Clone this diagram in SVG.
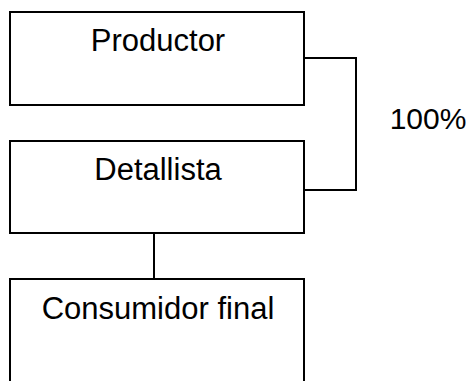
<svg xmlns="http://www.w3.org/2000/svg" width="471" height="381" viewBox="0 0 471 381">
  <style>
    .box { fill: #ffffff; stroke: #000000; stroke-width: 2; }
    .link { fill: none; stroke: #000000; stroke-width: 2; }
    .label { font-family: "Liberation Sans", Arial, sans-serif; font-size: 31px; fill: #000000; text-anchor: middle; }
  </style>
  <rect width="471" height="381" fill="#ffffff"/>
  <g id="connectors">
    <polyline class="link" points="304,58 356,58 356,190 304,190"/>
    <line class="link" x1="154" y1="233" x2="154" y2="279"/>
  </g>
  <g id="productor">
    <rect class="box" x="10" y="12" width="294" height="93"/>
    <text class="label" x="158" y="51">Productor</text>
  </g>
  <g id="detallista">
    <rect class="box" x="10" y="141" width="294" height="92"/>
    <text class="label" x="158" y="180">Detallista</text>
  </g>
  <g id="consumidor">
    <path class="box" d="M10,390 V279 H304 V390"/>
    <text class="label" x="158" y="319">Consumidor final</text>
  </g>
  <text class="label" x="428" y="129" style="font-size:30px">100%</text>
</svg>
